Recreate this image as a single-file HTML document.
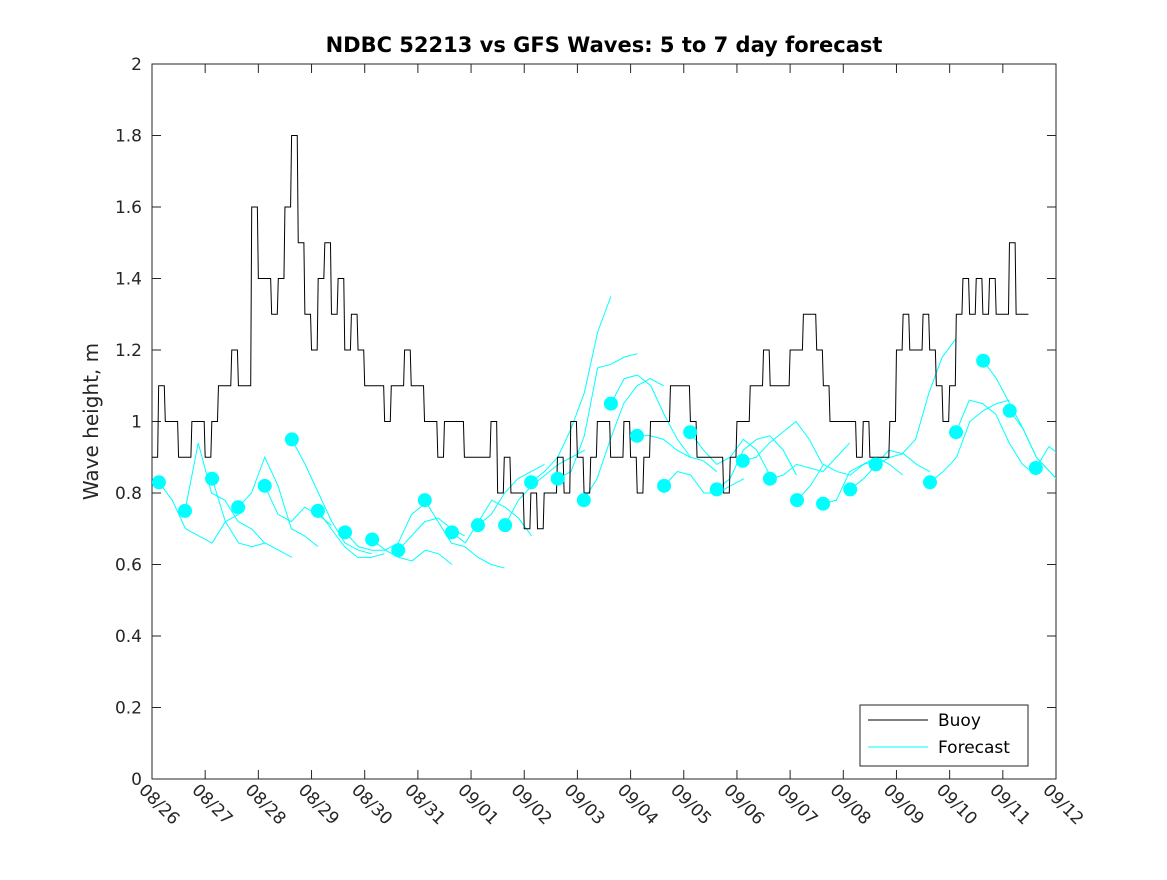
<!DOCTYPE html>
<html><head><meta charset="utf-8"><style>
body{margin:0;background:#fff;}
svg text{font-family:"DejaVu Sans","Liberation Sans",sans-serif;}
</style></head><body>
<svg width="1167" height="875" xmlns="http://www.w3.org/2000/svg">
<rect width="1167" height="875" fill="#fff"/>
</svg>
<script>
const xTickLabels=["08/26","08/27","08/28","08/29","08/30","08/31","09/01","09/02","09/03","09/04","09/05","09/06","09/07","09/08","09/09","09/10","09/11","09/12"];
const yTicks=[0,0.2,0.4,0.6,0.8,1,1.2,1.4,1.6,1.8,2];
const buoyStep=0.125;
const buoyValues=[0.9,1.1,1.0,1.0,0.9,0.9,1.0,1.0,
0.9,1.0,1.1,1.1,1.2,1.1,1.1,1.6,
1.4,1.4,1.3,1.4,1.6,1.8,1.5,1.3,
1.2,1.4,1.5,1.3,1.4,1.2,1.3,1.2,
1.1,1.1,1.1,1.0,1.1,1.1,1.2,1.1,
1.1,1.0,1.0,0.9,1.0,1.0,1.0,0.9,
0.9,0.9,0.9,1.0,0.8,0.9,0.8,0.8,
0.7,0.8,0.7,0.8,0.8,0.9,0.8,1.0,
0.9,0.8,0.9,1.0,1.0,0.9,0.9,1.0,
0.9,0.8,0.9,1.0,1.0,1.0,1.1,1.1,
1.1,1.0,0.9,0.9,0.9,0.9,0.8,0.9,
1.0,1.0,1.1,1.1,1.2,1.1,1.1,1.1,
1.2,1.2,1.3,1.3,1.2,1.1,1.0,1.0,
1.0,1.0,0.9,1.0,0.9,0.9,0.9,1.0,
1.2,1.3,1.2,1.2,1.3,1.2,1.1,1.0,
1.1,1.3,1.4,1.3,1.4,1.3,1.4,1.3,
1.3,1.5,1.3,1.3];
const runStarts=[0.13,0.62,1.13,1.62,2.12,2.63,3.12,3.63,4.14,4.63,5.13,5.64,6.13,6.64,7.13,7.63,8.12,8.63,9.12,9.63,10.12,10.62,11.11,11.62,12.13,12.62,13.13,13.61,14.63,15.12,15.63,16.13,16.62];
const runStep=0.25;
const runValues=[
[0.83,0.78,0.70,0.68,0.66,0.72,0.74],
[0.75,0.94,0.80,0.78,0.72,0.70,0.66],
[0.84,0.72,0.66,0.65,0.66,0.64,0.62],
[0.76,0.80,0.90,0.82,0.70,0.68,0.65],
[0.82,0.74,0.72,0.76,0.74,0.71],
[0.95,0.88,0.80,0.72,0.66,0.64,0.63],
[0.75,0.70,0.65,0.62,0.62,0.63],
[0.69,0.65,0.64,0.64,0.66,0.74,0.77],
[0.67,0.64,0.62,0.61,0.64,0.63,0.60],
[0.64,0.68,0.72,0.73,0.70,0.68],
[0.78,0.72,0.66,0.65,0.62,0.60,0.59],
[0.69,0.66,0.72,0.78,0.76,0.73,0.68],
[0.71,0.74,0.80,0.84,0.86,0.88],
[0.71,0.78,0.82,0.85,0.88,0.90,0.92],
[0.83,0.86,0.90,0.98,1.08,1.25,1.35],
[0.84,0.86,0.96,1.15,1.16,1.18,1.19],
[0.78,0.84,0.95,1.05,1.10,1.12,1.10],
[1.05,1.12,1.13,1.10,1.02,0.95,0.90],
[0.96,0.96,0.95,0.92,0.90,0.89,0.86],
[0.82,0.86,0.85,0.80,0.80,0.82,0.84],
[0.97,0.92,0.88,0.90,0.95,0.92,0.85],
[0.81,0.84,0.92,0.95,0.96,0.92,0.85],
[0.89,0.90,0.94,0.97,1.00,0.95,0.88],
[0.84,0.85,0.88,0.87,0.86,0.90,0.94],
[0.78,0.82,0.88,0.86,0.85,0.88,0.89],
[0.77,0.78,0.86,0.88,0.90,0.88,0.85],
[0.81,0.84,0.88,0.90,0.91,0.88,0.86],
[0.88,0.92,0.91,0.95,1.08,1.18,1.23],
[0.83,0.86,0.90,1.00,1.03,1.05,1.06],
[0.97,1.06,1.05,1.02,0.94,0.88,0.85],
[1.17,1.12,1.05,0.98,0.90,0.86,0.82],
[1.03,0.98,0.90,0.86,0.82],
[0.87,0.93,0.90]];

const L=152,R=1056,T=64,B=779;
const sx=d=>L+d*(R-L)/17;
const sy=v=>B-v*(B-T)/2;
const NS="http://www.w3.org/2000/svg";
const svg=document.querySelector('svg');
function mk(tag,attrs,parent){const e=document.createElementNS(NS,tag);for(const k in attrs)e.setAttribute(k,attrs[k]);(parent||svg).appendChild(e);return e;}
const defs=mk('defs',{});
const cp=mk('clipPath',{id:'clip'},defs);
mk('rect',{x:L,y:T,width:R-L,height:B-T},cp);

const frame=mk('rect',{x:L,y:T,width:R-L,height:B-T,fill:'#fff',stroke:'#262626','stroke-width':1});



const yAxis=mk('g',{});


yTicks.forEach(v=>{
  const y=sy(v);
  mk('line',{x1:L,x2:L+9,y1:y,y2:y,stroke:'#262626'},yAxis);
  mk('line',{x1:R,x2:R-9,y1:y,y2:y,stroke:'#262626'},yAxis);
  const t=mk('text',{x:L-10,y:y+6,'text-anchor':'end','font-size':17,fill:'#262626'},yAxis);
  t.textContent=String(v);
  
  
});
const xAxis=mk('g',{});


xTickLabels.forEach((lab,i)=>{
  const x=sx(i);
  mk('line',{x1:x,x2:x,y1:B,y2:B-9,stroke:'#262626'},xAxis);
  mk('line',{x1:x,x2:x,y1:T,y2:T+9,stroke:'#262626'},xAxis);
  const t=mk('text',{x:0,y:0,'font-size':17,fill:'#262626',transform:`translate(${x-14},${B+12}) rotate(45)`},xAxis);
  t.textContent=lab;
  
  
});

const series=mk('g',{'clip-path':'url(#clip)'});


runStarts.forEach((s,i)=>{
  const vals=runValues[i];
  const pts=vals.map((v,j)=>sx(s+j*runStep)+','+sy(v)).join(' ');
  const pl=mk('polyline',{points:pts,fill:'none',stroke:'#00ffff','stroke-width':1},series);
  
  
});
let bp=[];
buoyValues.forEach((v,i)=>{
  const x0=sx(i*buoyStep), x1=sx(i*buoyStep+buoyStep*0.85);
  bp.push(x0+','+sy(v)); bp.push(x1+','+sy(v));
});
const bl=mk('polyline',{points:bp.join(' '),fill:'none',stroke:'#000','stroke-width':1},series);


runStarts.forEach((s,i)=>{
  const c=mk('circle',{cx:sx(s),cy:sy(runValues[i][0]),r:7,fill:'#00ffff'},series);
  
  
});

const title=mk('text',{x:(L+R)/2,y:52,'text-anchor':'middle','font-size':21,'font-weight':'bold',fill:'#000'});
title.textContent='NDBC 52213 vs GFS Waves: 5 to 7 day forecast';


const yl=mk('text',{x:0,y:0,'text-anchor':'middle','font-size':20,fill:'#262626',transform:`translate(98,${(T+B)/2}) rotate(-90)`});
yl.textContent='Wave height, m';



const lg=mk('g',{});


mk('rect',{x:860,y:705,width:168,height:61,fill:'#fff',stroke:'#262626'},lg);
mk('line',{x1:868,x2:928,y1:720,y2:720,stroke:'#000'},lg);
mk('line',{x1:868,x2:928,y1:747,y2:747,stroke:'#00ffff'},lg);
const t1=mk('text',{x:938,y:726,'font-size':17,fill:'#000'},lg);t1.textContent='Buoy';


const t2=mk('text',{x:938,y:753,'font-size':17,fill:'#000'},lg);t2.textContent='Forecast';


</script>
</body></html>
